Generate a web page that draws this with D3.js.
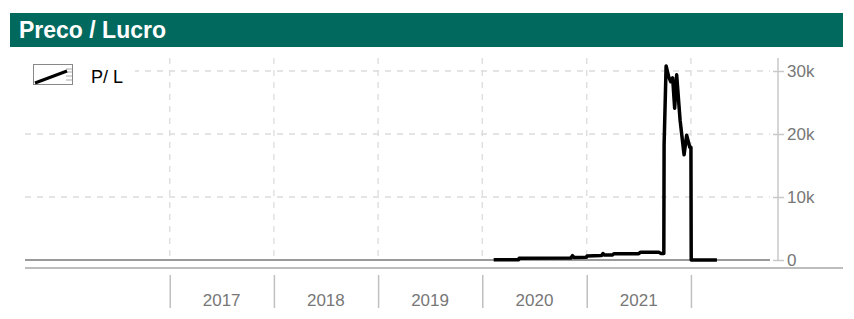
<!DOCTYPE html>
<html><head><meta charset="utf-8">
<script src="https://cdn.jsdelivr.net/npm/d3@7"></script>
<style>html,body{margin:0;padding:0;background:#fff;}svg{display:block;font-family:"Liberation Sans",Arial,sans-serif;}</style>
</head><body>
<svg id="c" width="854" height="319"></svg>
<script>
const title = "Preco / Lucro";
const seriesName = "P/ L";
const dates = ["2020-02-10","2020-05-07","2020-05-09","2020-11-06","2020-11-12","2020-11-18","2020-12-31","2021-01-02","2021-02-22","2021-02-27","2021-03-03","2021-04-01","2021-04-06","2021-07-02","2021-07-09","2021-09-10","2021-09-17","2021-09-28","2021-09-29","2021-10-06","2021-10-15","2021-10-22","2021-10-29","2021-11-05","2021-11-12","2021-11-24","2021-12-08","2021-12-17","2021-12-28","2022-01-01","2022-01-02","2022-04-02"];
const values = [30,30,270,300,680,400,420,640,700,1030,780,790,1000,1000,1250,1250,1050,1050,18300,30800,29100,28300,28900,24100,29400,22200,16700,19800,17900,17900,0,0];
const yTicks = [0,10000,20000,30000];
const yTickLabels = ["0","10k","20k","30k"];
const yearBounds = [2017,2018,2019,2020,2021,2022];
const yearLabels = ["2017","2018","2019","2020","2021"];

const svg = d3.select("#c");
const parse = d3.timeParse("%Y-%m-%d");
const data = dates.map((d,i)=>({date:parse(d), v:values[i]}));

const x = d3.scaleTime().domain([parse("2015-08-13"), parse("2022-10-05")]).range([25,770]);
const y = d3.scaleLinear().domain([0,30000]).range([260,71]);
const yd = yr => new Date(yr,0,1);

// title bar
svg.append("rect").attr("x",10).attr("y",13).attr("width",833).attr("height",34).attr("fill","#02695f");
svg.append("text").attr("x",19).attr("y",38).attr("fill","#fff").attr("font-size",23).attr("font-weight","bold")
  .text(title);

// grid horizontal
svg.append("g").selectAll("line").data(yTicks.slice(1)).join("line")
  .attr("x1",25).attr("x2",770).attr("y1",d=>y(d)).attr("y2",d=>y(d))
  .attr("stroke","#dcdcdc").attr("stroke-width",1.3).attr("stroke-dasharray","6,6");
// grid vertical
svg.append("g").selectAll("line").data(yearBounds).join("line")
  .attr("x1",d=>x(yd(d))).attr("x2",d=>x(yd(d))).attr("y1",58).attr("y2",256)
  .attr("stroke","#dcdcdc").attr("stroke-width",1.3).attr("stroke-dasharray","6,6");

// zero line
svg.append("line").attr("x1",25).attr("x2",770).attr("y1",y(0)).attr("y2",y(0)).attr("stroke","#9a9a9a").attr("stroke-width",2);
// bottom line
svg.append("line").attr("x1",25).attr("x2",843).attr("y1",268).attr("y2",268).attr("stroke","#bdbdbd").attr("stroke-width",2);

// right axis
const ya = d3.axisRight(y).tickValues(yTicks).tickFormat((d,i)=>yTickLabels[i]).tickSize(0).tickPadding(10);
const gy = svg.append("g").attr("transform","translate(778,0)").call(ya);
gy.select(".domain").remove();
gy.append("line").attr("x1",0).attr("x2",0).attr("y1",58).attr("y2",y(0)).attr("stroke","#c8c8c8").attr("stroke-width",1.5);
gy.selectAll(".tick").append("line").attr("x1",-5).attr("x2",6).attr("stroke","#c8c8c8").attr("stroke-width",1.5);
gy.selectAll(".tick text").attr("fill","#777").attr("font-size",17).attr("font-family","Liberation Sans, Arial, sans-serif").attr("x",9);

// bottom year ticks
const xa = d3.axisBottom(x).tickValues(yearBounds.map(yd)).tickFormat("").tickSize(33);
const gx = svg.append("g").attr("transform","translate(0,275)").call(xa);
gx.select(".domain").remove();
gx.selectAll(".tick line").attr("stroke","#c0c0c0").attr("stroke-width",1.5);
svg.append("g").selectAll("text").data(yearLabels).join("text")
  .attr("x",d=>x(new Date(+d,6,2))).attr("y",306).attr("text-anchor","middle")
  .attr("fill","#777").attr("font-size",17).text(d=>d);

// line
const line = d3.line().x(d=>x(d.date)).y(d=>y(d.v));
svg.append("path").datum(data).attr("d",line).attr("fill","none").attr("stroke","#000")
  .attr("stroke-width",3.5).attr("stroke-linejoin","round");

// legend
const lg = svg.append("g");
lg.append("rect").attr("x",25).attr("y",60).attr("width",110).attr("height",30).attr("fill","#fff");
lg.append("rect").attr("x",33.5).attr("y",64.5).attr("width",39).attr("height",20).attr("fill","#fff").attr("stroke","#888").attr("stroke-width",1);
[69,72,76,80].forEach(yy=>lg.append("line").attr("x1",66).attr("x2",72).attr("y1",yy).attr("y2",yy).attr("stroke","#aaa").attr("stroke-width",1));
lg.append("line").attr("x1",35).attr("y1",83).attr("x2",67).attr("y2",71).attr("stroke","#000").attr("stroke-width",3);
lg.append("text").attr("x",91).attr("y",83).attr("font-size",18).attr("fill","#000").text(seriesName);
</script>
</body></html>
